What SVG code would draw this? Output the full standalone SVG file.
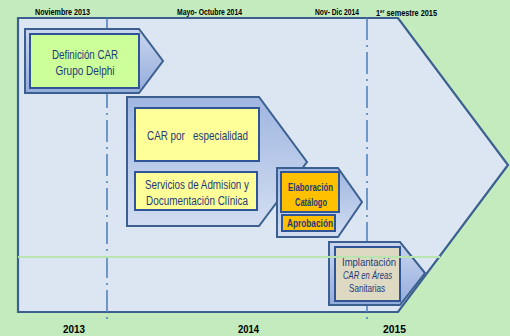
<svg xmlns="http://www.w3.org/2000/svg" width="510" height="336" viewBox="0 0 510 336">
  <defs>
    <linearGradient id="chev" x1="0" y1="0" x2="0" y2="1">
      <stop offset="0" stop-color="#9fb6e1"/>
      <stop offset="1" stop-color="#d2ddf1"/>
    </linearGradient>
    <linearGradient id="chev1" x1="0" y1="0" x2="0" y2="1">
      <stop offset="0" stop-color="#c9d6ef"/>
      <stop offset="1" stop-color="#94acdc"/>
    </linearGradient>
    <style>
      .chev { stroke: #3b5f8f; stroke-width: 2; }
      .box { stroke: #2f5597; stroke-width: 2; }
      .t { font-family: "Liberation Sans", sans-serif; fill: #1f3a78; text-anchor: middle; }
      .tb { font-weight: bold; }
      .lbl { font-family: "Liberation Sans", sans-serif; font-weight: bold; fill: #000; text-anchor: middle; }
      .guide { stroke: #4a7ebb; stroke-width: 1.5; stroke-dasharray: 22 5 2 5; fill: none; }
    </style>
  </defs>

  <rect x="0" y="0" width="510" height="336" fill="#c3ebbe"/>

  <g id="timeline">
    <polygon points="18,18 398,18 508,165 398,312 18,312" fill="#dce6f2" stroke="#3b5f8f" stroke-width="2.2"/>
  </g>

  <g id="lines">
    <line class="guide" x1="107" y1="18" x2="107" y2="320"/>
    <line class="guide" x1="367" y1="18" x2="367" y2="320"/>
  </g>

  <g id="node-definicion">
    <polygon class="chev" points="25,29 139,29 163,61 139,93 25,93" fill="url(#chev1)"/>
    <rect class="box" x="30" y="34" width="109" height="54" fill="#ccff99"/>
    <text class="t" x="85" y="58.5" font-size="13" textLength="66" lengthAdjust="spacingAndGlyphs">Definición CAR</text>
    <text class="t" x="85" y="74.5" font-size="13" textLength="59" lengthAdjust="spacingAndGlyphs">Grupo Delphi</text>
  </g>

  <g id="node-especialidad">
    <polygon class="chev" points="127,97 259,97 307,162 259,226 127,226" fill="url(#chev)"/>
    <rect class="box" x="135" y="108" width="124" height="53" fill="#ffff99"/>
    <text class="t" x="197.5" y="139.5" font-size="13" xml:space="preserve" textLength="101" lengthAdjust="spacingAndGlyphs">CAR por   especialidad</text>
    <rect class="box" x="135" y="172" width="122" height="38" fill="#ffff99"/>
    <text class="t" x="197" y="188.5" font-size="12.5" textLength="104" lengthAdjust="spacingAndGlyphs">Servicios de Admision y</text>
    <text class="t" x="197" y="204.5" font-size="12.5" textLength="102" lengthAdjust="spacingAndGlyphs">Documentación Clínica</text>
  </g>

  <g id="node-catalogo">
    <polygon class="chev" points="277,168 338,168 362,202 338,237 277,237" fill="url(#chev)"/>
    <rect class="box" x="281" y="172" width="58" height="40" fill="#ffc000"/>
    <text class="t tb" x="310.5" y="191" font-size="10" textLength="45" lengthAdjust="spacingAndGlyphs">Elaboración</text>
    <text class="t tb" x="311" y="206" font-size="10" textLength="32" lengthAdjust="spacingAndGlyphs">Catálogo</text>
    <rect class="box" x="282" y="215" width="53" height="16" fill="#ffc000"/>
    <text class="t tb" x="310" y="226.5" font-size="10" textLength="46" lengthAdjust="spacingAndGlyphs">Aprobación</text>
  </g>

  <g id="node-implantacion">
    <polygon class="chev" points="329,242 400,242 425,273 400,305 329,305" fill="url(#chev1)"/>
    <rect class="box" x="335" y="247" width="65" height="54" fill="#ddd9c3"/>
    <text class="t" x="369" y="266" font-size="11" textLength="54" lengthAdjust="spacingAndGlyphs">Implantación</text>
    <text class="t" x="367.5" y="279" font-size="11" font-style="italic" textLength="49" lengthAdjust="spacingAndGlyphs">CAR en Áreas</text>
    <text class="t" x="367" y="292" font-size="11" textLength="36" lengthAdjust="spacingAndGlyphs">Sanitarias</text>
  </g>

  <line x1="18" y1="257" x2="440" y2="257" stroke="#b8e4b0" stroke-width="2"/>

  <g id="labels">
    <text class="lbl" x="62.5" y="15" font-size="9.5" textLength="55" lengthAdjust="spacingAndGlyphs">Noviembre  2013</text>
    <text class="lbl" x="209.5" y="15" font-size="9.5" textLength="65" lengthAdjust="spacingAndGlyphs">Mayo- Octubre 2014</text>
    <text class="lbl" x="337" y="15" font-size="9.5" textLength="44" lengthAdjust="spacingAndGlyphs">Nov- Dic 2014</text>
    <text class="lbl" x="406.5" y="16" font-size="9.5" textLength="61" lengthAdjust="spacingAndGlyphs">1<tspan font-size="6" dy="-3">er</tspan><tspan dy="3"> semestre 2015</tspan></text>
    <text class="lbl" x="74" y="333" font-size="11.5" textLength="22" lengthAdjust="spacingAndGlyphs">2013</text>
    <text class="lbl" x="248.5" y="333" font-size="11.5" textLength="21" lengthAdjust="spacingAndGlyphs">2014</text>
    <text class="lbl" x="394.5" y="333" font-size="11.5" textLength="23" lengthAdjust="spacingAndGlyphs">2015</text>
  </g>
</svg>
